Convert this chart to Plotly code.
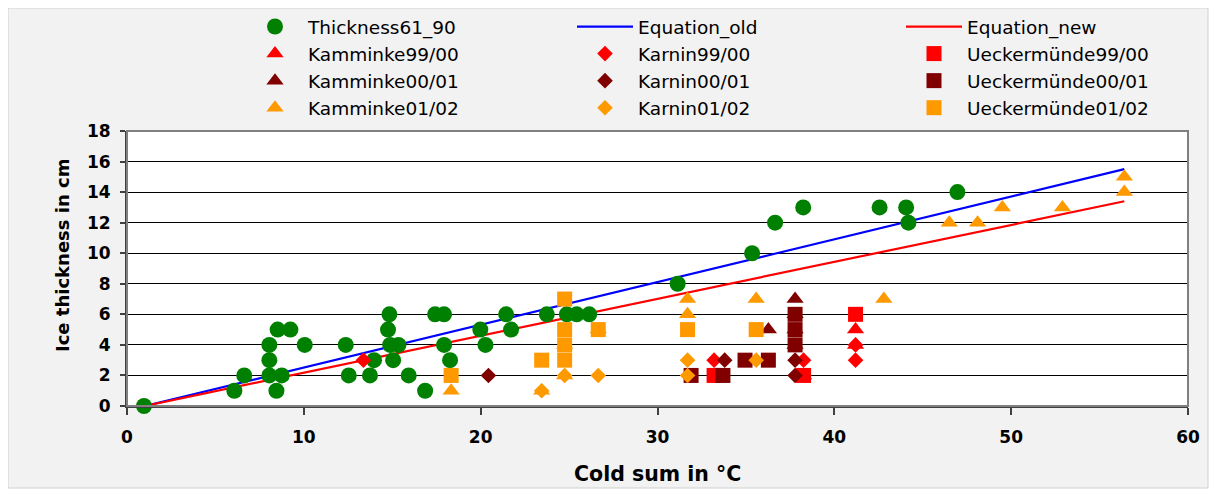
import plotly.graph_objects as go

# ---------------- data ----------------
thick_x = [0.96, 6.07, 6.63, 8.05, 8.05, 8.05, 8.45, 8.52, 8.75, 9.24, 10.05, 12.37, 12.54,
           13.74, 13.97, 14.76, 14.84, 14.88, 15.05, 15.35, 15.93, 16.86, 17.42, 17.93, 17.93,
           18.27, 19.98, 20.27, 21.44, 21.72, 23.74, 24.87, 25.43, 26.14, 31.14, 35.35, 36.65,
           38.24, 42.56, 44.06, 44.19, 46.96]
thick_y = [0, 1, 2, 4, 3, 2, 1, 5, 2, 5, 4, 4, 2,
           2, 3, 5, 6, 4, 3, 4, 2, 1, 6, 6, 4,
           3, 5, 4, 6, 5, 6, 6, 6, 6, 8, 10, 12,
           13, 13, 13, 12, 14]

eq_x = [1.0, 56.4]
eq_old_y = [0.0, 15.5]
eq_new_y = [0.0, 13.4]

kam99_x = [38.26, 41.2, 41.2]
kam99_y = [2, 5, 4]
kam00_x = [36.27, 37.78, 37.78, 37.78, 37.78]
kam00_y = [5, 7, 6, 5, 4]
kam01_x = [18.33, 23.45, 24.75, 24.75, 26.65, 31.7, 31.7, 35.58, 42.8, 46.5, 48.1, 49.5, 52.9, 56.4, 56.4]
kam01_y = [1, 1, 2, 4, 5, 6, 7, 7, 7, 12, 12, 13, 13, 15, 14]

kar99_x = [13.37, 33.2, 38.26, 41.2, 41.2]
kar99_y = [3, 3, 3, 4, 3]
kar00_x = [20.44, 33.8, 37.78, 37.78]
kar00_y = [2, 3, 3, 2]
kar01_x = [23.45, 24.75, 26.65, 31.7, 31.7, 35.58]
kar01_y = [1, 2, 2, 3, 2, 3]

uec99_x = [33.2, 38.26, 41.2]
uec99_y = [2, 2, 6]
uec00_x = [31.9, 33.7, 34.95, 36.27, 37.78, 37.78, 37.78]
uec00_y = [2, 2, 3, 3, 6, 5, 4]
uec01_x = [18.33, 23.45, 24.75, 24.75, 24.75, 24.75, 26.65, 31.7, 35.58]
uec01_y = [2, 3, 7, 5, 4, 3, 5, 5, 5]

RED = "#FF0000"
DARK = "#800000"
ORANGE = "#FF9900"
GREEN = "#008000"
FONT = "DejaVu Sans, Arial, sans-serif"

fig = go.Figure()

# lines first (drawn beneath markers)
fig.add_trace(go.Scatter(x=eq_x, y=eq_old_y, mode="lines", name="Equation_old",
                         line=dict(color="#0000FF", width=2.2), legend="legend2"))
fig.add_trace(go.Scatter(x=eq_x, y=eq_new_y, mode="lines", name="Equation_new",
                         line=dict(color=RED, width=2.2), legend="legend3"))
fig.add_trace(go.Scatter(x=thick_x, y=thick_y, mode="markers", name="Thickness61_90",
                         marker=dict(symbol="circle", size=16, color=GREEN), legend="legend",
                         cliponaxis=False))


def add(x, y, name, sym, col, size, leg):
    fig.add_trace(go.Scatter(x=x, y=y, mode="markers", name=name,
                             marker=dict(symbol=sym, size=size, color=col, line=dict(width=0)),
                             legend=leg, cliponaxis=False))


TRI, DIA, SQ = 15, 12, 15
add(kam99_x, kam99_y, "Kamminke99/00", "triangle-up", RED, TRI, "legend")
add(kar99_x, kar99_y, "Karnin99/00", "diamond", RED, DIA, "legend2")
add(uec99_x, uec99_y, "Ueckermünde99/00", "square", RED, SQ, "legend3")
add(kam00_x, kam00_y, "Kamminke00/01", "triangle-up", DARK, TRI, "legend")
add(kar00_x, kar00_y, "Karnin00/01", "diamond", DARK, DIA, "legend2")
add(uec00_x, uec00_y, "Ueckermünde00/01", "square", DARK, SQ, "legend3")
add(kam01_x, kam01_y, "Kamminke01/02", "triangle-up", ORANGE, TRI, "legend")
add(kar01_x, kar01_y, "Karnin01/02", "diamond", ORANGE, DIA, "legend2")
add(uec01_x, uec01_y, "Ueckermünde01/02", "square", ORANGE, SQ, "legend3")

# page is offset by the 8px default body margin
OFF = 8
W, H = 1209, 485
L, R, T, B = 119, 29, 123, 87
pw, ph = W - L - R, H - T - B


def px2x(p):
    return (p - OFF - L) / pw


def py2y(p):
    return (H - B - (p - OFF)) / ph


leg_common = dict(xref="container", yref="container", yanchor="top", xanchor="left",
                  orientation="v", bgcolor="rgba(0,0,0,0)", borderwidth=0,
                  font=dict(family=FONT, size=18.5, color="black"), itemwidth=56)
ly = 1 + 1 / H

TICKFONT = dict(family=FONT, size=17, weight="bold", color="black")

fig.update_layout(
    width=W, height=H,
    margin=dict(l=L, r=R, t=T, b=B, autoexpand=False),
    paper_bgcolor="white", plot_bgcolor="white",
    font=dict(family=FONT, color="black"),
    showlegend=True,
    legend=dict(x=234 / W, y=ly, **leg_common),
    legend2=dict(x=564 / W, y=ly, **leg_common),
    legend3=dict(x=893 / W, y=ly, **leg_common),
    xaxis=dict(range=[0, 60], tick0=0, dtick=10, showgrid=False, zeroline=False,
               showline=True, linecolor="#404040", linewidth=2,
               ticks="outside", ticklen=7, tickcolor="#404040", tickwidth=1.5,
               tickfont=TICKFONT, ticklabelstandoff=8),
    yaxis=dict(range=[0, 18], tick0=0, dtick=2, showgrid=True, gridcolor="black", gridwidth=1,
               zeroline=False, showline=True, linecolor="#404040", linewidth=2,
               ticks="outside", ticklen=5, tickcolor="#404040", tickwidth=1.5,
               tickfont=TICKFONT, ticklabelstandoff=6),
    shapes=[
        dict(type="rect", xref="paper", yref="paper", layer="below",
             x0=px2x(8), x1=px2x(1208), y0=py2y(488), y1=py2y(8),
             fillcolor="#f2f2f2", line=dict(color="#d0d0d0", width=1)),
        dict(type="rect", xref="paper", yref="paper", layer="below",
             x0=0, x1=1, y0=0, y1=1, fillcolor="white", line=dict(width=0)),
        dict(type="rect", xref="paper", yref="paper", layer="above",
             x0=0, x1=1, y0=0, y1=1, fillcolor="rgba(0,0,0,0)",
             line=dict(color="#808080", width=2)),
    ],
    annotations=[
        dict(text="Ice thickness in cm", xref="paper", yref="paper", showarrow=False,
             x=px2x(62), y=py2y(256), textangle=-90, xanchor="center", yanchor="middle",
             font=dict(family=FONT, size=18, weight="bold", color="black")),
        dict(text="Cold sum in °C", xref="paper", yref="paper", showarrow=False,
             x=px2x(657), y=py2y(474), xanchor="center", yanchor="middle",
             font=dict(family=FONT, size=20.5, weight="bold", color="black")),
    ],
)

fig.write_html("out.html")
